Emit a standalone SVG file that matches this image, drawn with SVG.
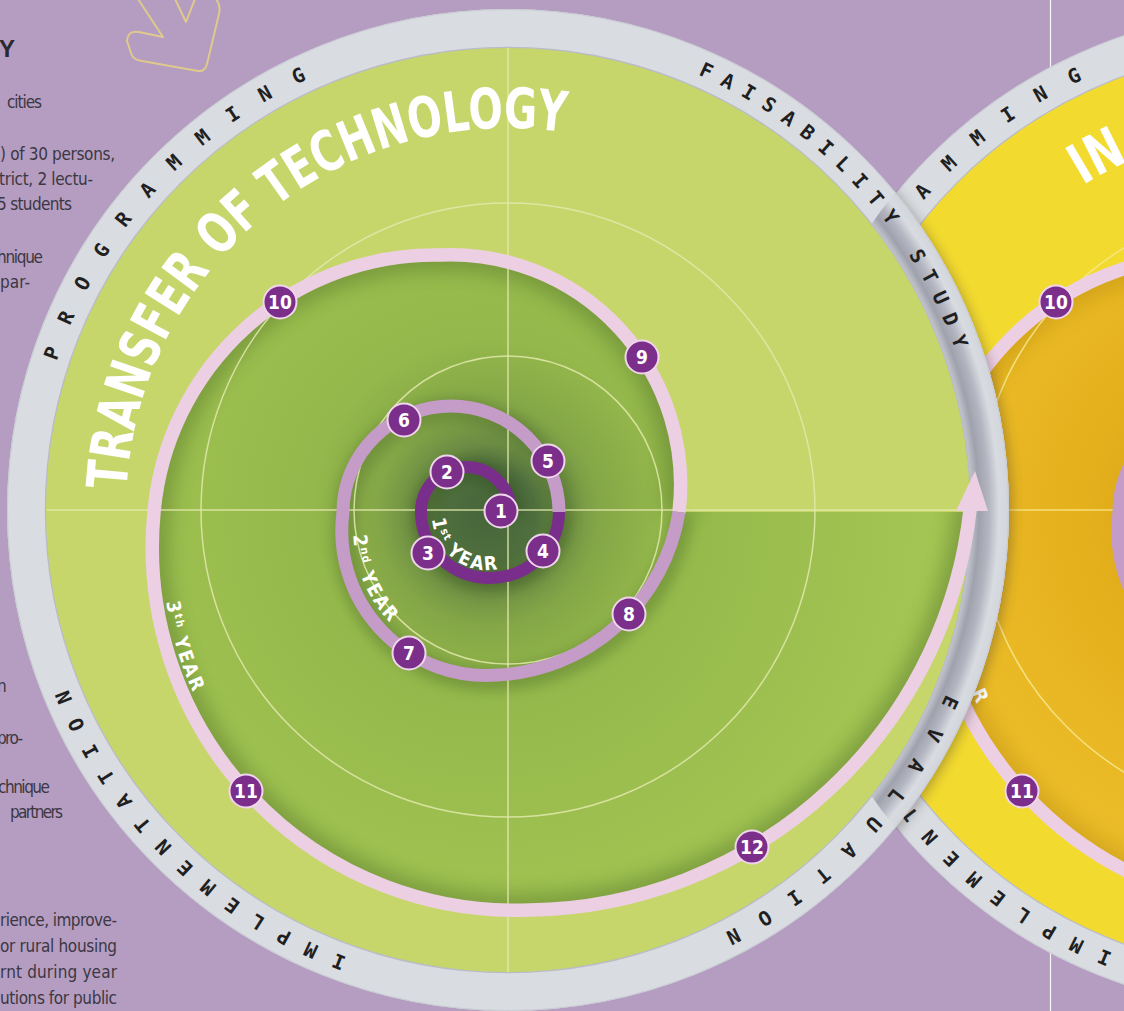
<svg xmlns="http://www.w3.org/2000/svg" width="1124" height="1011" viewBox="0 0 1124 1011">
<defs>
<style>
.body{font-family:'Liberation Sans Narrow','DejaVu Sans Condensed','Liberation Sans',sans-serif;font-size:17px;fill:#3b3743}
.ring{font-family:'DejaVu Sans Mono','Liberation Mono',monospace;font-weight:bold;font-size:20px;fill:#1f1f22}
.title{font-family:'DejaVu Sans Condensed','Liberation Sans Narrow','Liberation Sans',sans-serif;font-weight:bold;font-size:56px;fill:#ffffff}
.yr{font-family:'DejaVu Sans Condensed','Liberation Sans Narrow','Liberation Sans',sans-serif;font-weight:bold;font-size:19px;fill:#ffffff;letter-spacing:2px}
.node circle{fill:#7b2f8b;stroke:#f0d6ec;stroke-width:2}
.node text{font-family:'DejaVu Sans Condensed','Liberation Sans Narrow','Liberation Sans',sans-serif;font-weight:bold;font-size:19px;fill:#ffffff;text-anchor:middle}
.grid{stroke:#e2e9ad;stroke-width:1.5;fill:none;opacity:.85}
.gridy{stroke:#f8e88e;stroke-width:1.5;fill:none;opacity:.85}
.a1{fill:none;stroke:#7a2e8c;stroke-width:12}
.a2{fill:none;stroke:#c59bc7;stroke-width:13}
.a3{fill:none;stroke:#eccfe3;stroke-width:13.5}
.ringband{fill:none;stroke:#d9dce0;stroke-width:39}
.ringin{fill:none;stroke:#b8bcc8;stroke-width:1.5}
.ringout{fill:none;stroke:#c9ccd3;stroke-width:1}
</style>
<path id="p1" d="M511,512 A45,45 0 0 0 421,512 A69,66 0 0 0 559,512"/>
<path id="p2" d="M559,512 A108,106 0 0 0 343,512 A144.6,144.6 0 0 0 497,675 A193.7,193.7 0 0 0 679,512"/>
<path id="p3" d="M679,512 A230,230 0 0 0 440,255 A282,282 0 0 0 154,512 A362.8,362.8 0 0 0 530,910 A449.8,449.8 0 0 0 971,500"/>
<path id="reg" d="M679,512 A230,230 0 0 0 440,255 A282,282 0 0 0 154,512 A362.8,362.8 0 0 0 530,910 A449.8,449.8 0 0 0 971,500 L971,512 Z"/>
<path id="ringPath1" d="M26,510 A482,482 0 1 1 990,510 A482,482 0 1 1 26,510"/>
<path id="ringPath2" d="M802,510 A482,482 0 1 1 1766,510 A482,482 0 1 1 802,510"/>
<path id="titlePath1" d="M126,510 A382,382 0 0 1 890,510"/>
<path id="titlePath2" d="M902,510 A382,382 0 0 1 1666,510"/>
<path id="y1" d="M432,515 A55,55 0 0 0 529.1,550.4"/>
<path id="y2" d="M353.4,526.2 A133,133 0 0 0 463.2,661.8"/>
<path id="y3" d="M162.9,572.2 A353,353 0 0 0 288.1,818"/>
<radialGradient id="gGreen" gradientUnits="userSpaceOnUse" cx="488" cy="515" r="440">
<stop offset="0" stop-color="#46663a"/>
<stop offset="0.11" stop-color="#4f6f3e"/>
<stop offset="0.16" stop-color="#6a8b43"/>
<stop offset="0.25" stop-color="#84a647"/>
<stop offset="0.4" stop-color="#94b84b"/>
<stop offset="1" stop-color="#a3c553"/>
</radialGradient>
<radialGradient id="gYel" gradientUnits="userSpaceOnUse" cx="488" cy="515" r="440">
<stop offset="0" stop-color="#cf9612"/>
<stop offset="0.4" stop-color="#e4b01c"/>
<stop offset="0.7" stop-color="#eaba26"/>
<stop offset="1" stop-color="#eec22f"/>
</radialGradient>
<radialGradient id="ringShade" gradientUnits="userSpaceOnUse" cx="508" cy="510" r="501">
<stop offset="0.922" stop-color="#c6c9d0"/>
<stop offset="0.94" stop-color="#9fa1ad"/>
<stop offset="0.96" stop-color="#b3b6c0"/>
<stop offset="0.98" stop-color="#d8dbe0"/>
<stop offset="1" stop-color="#d2d5db"/>
</radialGradient>
<clipPath id="cReg1"><use href="#reg"/></clipPath>
<clipPath id="cC2"><circle cx="1284" cy="510" r="502"/></clipPath>
<filter id="blur6" x="-20%" y="-20%" width="140%" height="140%"><feGaussianBlur stdDeviation="6"/></filter>
<filter id="blur9" x="-20%" y="-20%" width="140%" height="140%"><feGaussianBlur stdDeviation="9"/></filter>
</defs>

<rect x="0" y="0" width="1124" height="1011" fill="#b49dc1"/>
<line x1="1050.5" y1="0" x2="1050.5" y2="1011" stroke="#ffffff" stroke-width="1.2" opacity="0.9"/>

<g id="arrow-outline" fill="none" stroke="#e0c98d" stroke-width="2" stroke-linejoin="round">
<path d="M138,-1 L163,37 L139,32 Q128,30 127,41 L131,53 Q133,60 142,61 L198,71 Q205,72 207,64 L219,14 Q221,5 216,-1"/>
<path d="M175,-1 L186,22 L195,-1"/>
</g>

<g id="side-text">
<text x="-1" y="57" font-family="'Liberation Sans','DejaVu Sans',sans-serif" font-weight="bold" font-size="24" fill="#2a2a2e">Y</text>
<text class="body" x="7" y="108" textLength="35">cities</text>
<text class="body" x="0" y="160" textLength="115">) of 30 persons,</text>
<text class="body" x="-1" y="185" textLength="94">trict, 2 lectu-</text>
<text class="body" x="-3" y="210" textLength="75">5 students</text>
<text class="body" x="-3" y="263" textLength="46">hnique</text>
<text class="body" x="0" y="288" textLength="30">par-</text>
<text class="body" x="-3" y="692">n</text>
<text class="body" x="-3" y="744" textLength="26">pro-</text>
<text class="body" x="-2" y="793" textLength="52">chnique</text>
<text class="body" x="10" y="818" textLength="53">partners</text>
<text class="body" x="0" y="926" textLength="117" lengthAdjust="spacing">rience, improve-</text>
<text class="body" x="0" y="952" textLength="117" lengthAdjust="spacing">or rural housing</text>
<text class="body" x="0" y="978" textLength="117" lengthAdjust="spacing">rnt during year</text>
<text class="body" x="0" y="1004" textLength="117" lengthAdjust="spacing">utions for public</text>
</g>

<g id="circle2">
<circle class="ringband" cx="1284" cy="510" r="481.5"/>
<circle class="ringin" cx="1284" cy="510" r="462.5"/>
<circle class="ringout" cx="1284" cy="510" r="500.5"/>
<text class="ring" dominant-baseline="central"><textPath href="#ringPath2" startOffset="342.3" letter-spacing="26.3">AMMING</textPath></text>
<text class="ring" dominant-baseline="central"><textPath href="#ringPath2" startOffset="2448.8" letter-spacing="18.5">IMPLEMENT</textPath></text>
<circle cx="1284" cy="510" r="462" fill="#f3da2f"/>
<g transform="translate(776,0)">
<use href="#reg" fill="url(#gYel)"/>
<g clip-path="url(#cReg1)"><use href="#p3" fill="none" stroke="#b88a10" stroke-width="34" opacity="0.4" filter="url(#blur9)"/></g>
<circle class="gridy" cx="508" cy="510" r="307"/>
<line class="gridy" x1="46" y1="510" x2="970" y2="510"/>
<use href="#p2" class="a2"/>
<use href="#p3" class="a3"/>
</g>
<g id="c2n10" class="node"><circle cx="1056" cy="302" r="16.5"/><text x="1056" y="309">10</text></g>
<g id="c2n11" class="node"><circle cx="1022" cy="791" r="16.5"/><text x="1022" y="798">11</text></g>
<text class="yr" transform="translate(981,696) rotate(66)" text-anchor="middle" dominant-baseline="central">R</text>
<text class="title"><textPath href="#titlePath2" startOffset="388" textLength="52" lengthAdjust="spacingAndGlyphs">IN</textPath></text>
</g>

<g clip-path="url(#cC2)"><circle cx="512" cy="513" r="500" fill="#3a3030" opacity="0.35" filter="url(#blur6)"/></g>

<g id="circle1">
<g id="ring1">
<circle class="ringband" cx="508" cy="510" r="481.5"/>
<g clip-path="url(#cC2)"><circle cx="508" cy="510" r="481.5" fill="none" stroke="url(#ringShade)" stroke-width="39"/></g>
<circle class="ringin" cx="508" cy="510" r="462.5"/>
<circle class="ringout" cx="508" cy="510" r="500.5"/>
<text class="ring" dominant-baseline="central"><textPath href="#ringPath1" startOffset="153.8" letter-spacing="26">PROGRAMMING</textPath></text>
<text class="ring" dominant-baseline="central"><textPath href="#ringPath1" startOffset="955.5" letter-spacing="11.7">FAISABILITY STUDY</textPath></text>
<text class="ring" dominant-baseline="central"><textPath href="#ringPath1" startOffset="1705.9" letter-spacing="24">EVALUATION</textPath></text>
<text class="ring" dominant-baseline="central"><textPath href="#ringPath1" startOffset="2437.8" letter-spacing="18.1">IMPLEMENTATION</textPath></text>
</g>
<circle cx="508" cy="510" r="462" fill="#c7d66b"/>
<use href="#reg" fill="url(#gGreen)"/>
<g clip-path="url(#cReg1)"><use href="#p3" fill="none" stroke="#55752a" stroke-width="34" opacity="0.45" filter="url(#blur9)"/></g>
<use href="#p2" fill="none" stroke="#3e5c22" stroke-width="24" opacity="0.3" filter="url(#blur6)" transform="translate(3,4)"/>
<use href="#p1" fill="none" stroke="#2c4418" stroke-width="22" opacity="0.35" filter="url(#blur6)" transform="translate(2,3)"/>
<g id="grid1">
<line class="grid" x1="508" y1="48" x2="508" y2="972"/>
<line class="grid" x1="47" y1="510" x2="970" y2="510"/>
<circle class="grid" cx="508" cy="510" r="154"/>
<circle class="grid" cx="508" cy="510" r="307"/>
</g>
<text class="title"><textPath href="#titlePath1" startOffset="20" textLength="637" lengthAdjust="spacingAndGlyphs">TRANSFER OF TECHNOLOGY</textPath></text>
<g id="connectors">
<use href="#p3" class="a3"/>
<polygon points="975,471 956,511 988,511" fill="#eccfe3"/>
<use href="#p2" class="a2"/>
<use href="#p1" class="a1"/>
</g>
<g id="year-labels">
<text class="yr"><textPath href="#y1" startOffset="4">1<tspan font-size="11" dy="-6">st</tspan><tspan dy="6"> YEAR</tspan></textPath></text>
<text class="yr"><textPath href="#y2" startOffset="9">2<tspan font-size="11" dy="-6">nd</tspan><tspan dy="6"> YEAR</tspan></textPath></text>
<text class="yr"><textPath href="#y3" startOffset="30">3<tspan font-size="11" dy="-6">th</tspan><tspan dy="6"> YEAR</tspan></textPath></text>
</g>
<g id="n1" class="node"><circle cx="501" cy="511" r="16.5"/><text x="501" y="518">1</text></g>
<g id="n2" class="node"><circle cx="447" cy="472" r="16.5"/><text x="447" y="479">2</text></g>
<g id="n3" class="node"><circle cx="428" cy="553" r="16.5"/><text x="428" y="560">3</text></g>
<g id="n4" class="node"><circle cx="543" cy="551" r="16.5"/><text x="543" y="558">4</text></g>
<g id="n5" class="node"><circle cx="548" cy="461" r="16.5"/><text x="548" y="468">5</text></g>
<g id="n6" class="node"><circle cx="404" cy="420" r="16.5"/><text x="404" y="427">6</text></g>
<g id="n7" class="node"><circle cx="409" cy="653" r="16.5"/><text x="409" y="660">7</text></g>
<g id="n8" class="node"><circle cx="629" cy="614" r="16.5"/><text x="629" y="621">8</text></g>
<g id="n9" class="node"><circle cx="642" cy="357" r="16.5"/><text x="642" y="364">9</text></g>
<g id="n10" class="node"><circle cx="280" cy="302" r="16.5"/><text x="280" y="309">10</text></g>
<g id="n11" class="node"><circle cx="246" cy="791" r="16.5"/><text x="246" y="798">11</text></g>
<g id="n12" class="node"><circle cx="752" cy="847" r="16.5"/><text x="752" y="854">12</text></g>
</g>
</svg>
